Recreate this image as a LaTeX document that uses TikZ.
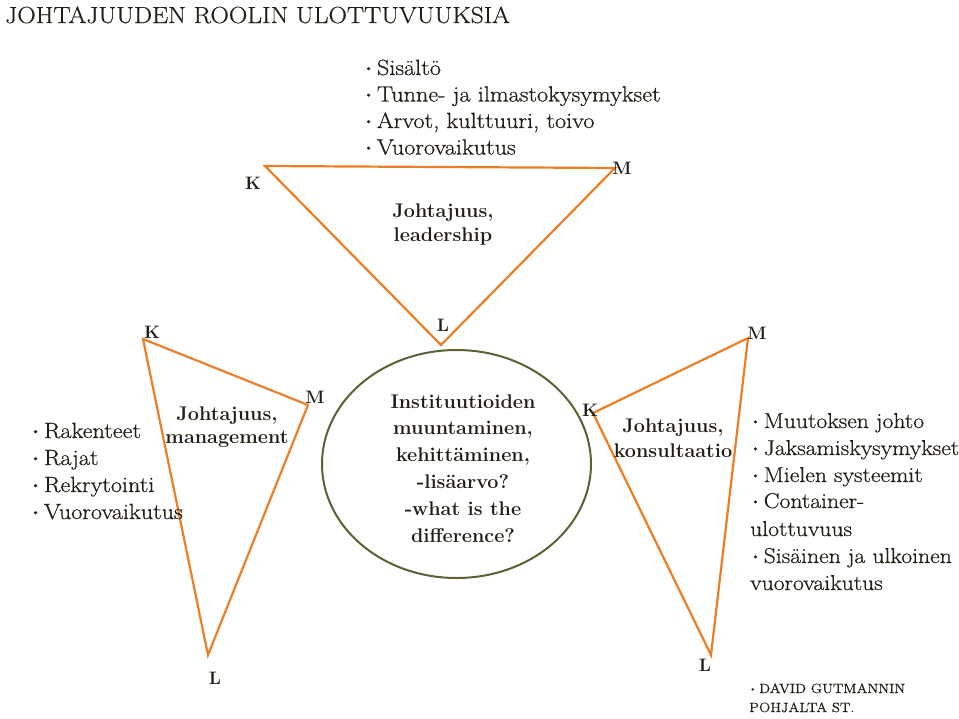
\documentclass[tikz,border=0pt]{standalone}
\usepackage{fontspec}
\usetikzlibrary{shapes.geometric}
\newfontfamily\widefont{Latin Modern Roman}[FakeStretch=1.1, FakeBold=0.6]
\definecolor{tri}{RGB}{236,126,38}
\definecolor{olivec}{RGB}{85,100,50}
\definecolor{ink}{RGB}{35,30,20}
\newcommand\bul{\raisebox{0.28ex}{\scalebox{0.62}{\textbullet}}\hspace{3pt}}
\tikzset{
  txt/.style={inner sep=0pt, text=ink},
  listtxt/.style={txt, anchor=base west, font=\widefont\fontsize{22}{26}\selectfont},
  rlisttxt/.style={listtxt, font=\widefont\fontsize{21.5}{26}\selectfont},
  boldtxt/.style={txt, anchor=base, font=\fontsize{19.8}{24}\selectfont\bfseries},
  vlabel/.style={txt, font=\fontsize{18}{22}\selectfont\bfseries},
  triline/.style={draw=tri, line width=2.2pt, line join=miter},
}
\begin{document}
\begin{tikzpicture}[x=1pt,y=-1pt]
\useasboundingbox (0,0) rectangle (959,718);
% title
\node[txt, anchor=base west, font=\widefont\fontsize{23.3}{28}\selectfont] (title) at (5,23) {JOHTAJUUDEN ROOLIN ULOTTUVUUKSIA};

% top list
\foreach \t [count=\i] in {Sisältö, Tunne- ja ilmastokysymykset, {Arvot, kulttuuri, toivo}, Vuorovaikutus}
  \node[listtxt] (tl\i) at (363,{75+26.5*(\i-1)}) {\bul\t};

% top triangle
\coordinate (tK) at (265,166);
\coordinate (tM) at (615,168);
\coordinate (tL) at (441,345);
\draw[triline] (tK) -- (tM) -- (tL) -- cycle;
\node[vlabel] (tKl) at (253,183) {K};
\node[vlabel] (tMl) at (622,168) {M};
\node[vlabel] (tLl) at (443,325) {L};
\node[boldtxt] (tj1) at (443,217) {Johtajuus,};
\node[boldtxt] (tj2) at (443,241) {leadership};

% left triangle
\coordinate (lK) at (143,339);
\coordinate (lM) at (308,405);
\coordinate (lL) at (208,655);
\draw[triline] (lK) -- (lM) -- (lL) -- cycle;
\node[vlabel] (lKl) at (152,332) {K};
\node[vlabel] (lMl) at (315,397) {M};
\node[vlabel] (lLl) at (215,678) {L};
\node[boldtxt] (lj1) at (227,420) {Johtajuus,};
\node[boldtxt] (lj2) at (227,443) {management};

% left list
\foreach \t [count=\i] in {Rakenteet, Rajat, Rekrytointi, Vuorovaikutus}
  \node[listtxt] (ll\i) at (30,{438+27*(\i-1)}) {\bul\t};

% ellipse
\node[ellipse, draw=olivec, line width=2pt, minimum width=269pt, minimum height=228pt, inner sep=0pt] (ell) at (456.5,464) {};
\foreach \t [count=\i] in {Instituutioiden, {muuntaminen,}, {kehittäminen,}, -lisäarvo?, -what is the, difference?}
  \node[boldtxt] (el\i) at (463,{408+26.8*(\i-1)}) {\t};

% right triangle
\coordinate (rK) at (593,413);
\coordinate (rM) at (748,338);
\coordinate (rL) at (711,655);
\draw[triline] (rK) -- (rM) -- (rL) -- cycle;
\node[vlabel] (rKl) at (590,410) {K};
\node[vlabel] (rMl) at (757,333) {M};
\node[vlabel] (rLl) at (705,665) {L};
\node[boldtxt] (rj1) at (673,432) {Johtajuus,};
\node[boldtxt] (rj2) at (673,457) {konsultaatio};

% right list
\node[rlisttxt] (rl1) at (750,428) {\bul Muutoksen johto};
\node[rlisttxt] (rl2) at (750,455) {\bul Jaksamiskysymykset};
\node[rlisttxt] (rl3) at (750,482) {\bul Mielen systeemit};
\node[rlisttxt] (rl4) at (750,508) {\bul Container-};
\node[rlisttxt] (rl5) at (750,536) {ulottuvuus};
\node[rlisttxt] (rl6) at (750,563) {\bul Sisäinen ja ulkoinen};
\node[rlisttxt] (rl7) at (750,590) {vuorovaikutus};

% footer
\node[txt, anchor=base west, font=\widefont\fontsize{13.4}{18}\selectfont] (f1) at (749,693) {\bul DAVID GUTMANNIN};
\node[txt, anchor=base west, font=\widefont\fontsize{13.4}{18}\selectfont] (f2) at (749,712) {POHJALTA ST.};
\end{tikzpicture}
\end{document}
